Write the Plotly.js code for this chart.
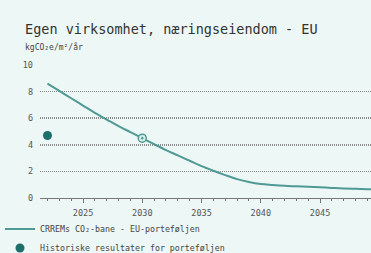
<!DOCTYPE html>
<html>
<head>
<meta charset="utf-8">
<script src="https://cdn.plot.ly/plotly-3.0.1.min.js"></script>
<style>html,body{margin:0;padding:0;background:#edf7f5;}#chart{width:371px;height:253px;}</style>
</head>
<body>
<div id="chart"></div>
<script>
// CRREM pathway (kgCO2e/m2/year)
const pathYears = [2022,2023,2024,2025,2026,2027,2028,2029,2030,2031,2032,2033,2034,2035,2036,2037,2038,2039,2040,2041,2042,2043,2044,2045,2046,2047,2048,2049,2050];
const pathValues = [8.6,8.05,7.5,6.95,6.4,5.9,5.4,4.95,4.5,4.05,3.6,3.2,2.8,2.4,2.05,1.72,1.42,1.2,1.05,0.98,0.92,0.88,0.84,0.8,0.76,0.72,0.69,0.66,0.63];
// Highlighted point on the pathway
const highlightYears = [2030];
const highlightValues = [4.5];
// Historical results for the portfolio
const histYears = [2022];
const histValues = [4.7];

const titleText = "Egen virksomhet, næringseiendom - EU";
const unitText = "kgCO₂e/m²/år";
const pathName = "CRREMs CO₂-bane - EU-porteføljen";
const histName = "Historiske resultater for porteføljen";
const xTickVals = [2025,2030,2035,2040,2045];
const yTickVals = [0,2,4,6,8,10];

const mono = "DejaVu Sans Mono, monospace";
const lineColor = "#4f9a95";
const dotColor = "#1d6f6b";
const bg = "#edf7f5";

const traces = [
  {x: pathYears, y: pathValues, type: "scatter", mode: "lines", name: pathName,
   line: {color: lineColor, width: 2, shape: "spline"}},
  {x: histYears, y: histValues, type: "scatter", mode: "markers", name: histName,
   marker: {color: dotColor, size: 9}},
  {x: highlightYears, y: highlightValues, type: "scatter", mode: "markers", showlegend: false,
   marker: {symbol: "circle-dot", color: "#d8eeea", size: 8, line: {color: lineColor, width: 1.5}}}
];

const layout = {
  width: 371, height: 253,
  paper_bgcolor: bg, plot_bgcolor: bg,
  margin: {l: 40, r: 0, t: 65, b: 55, autoexpand: false},
  font: {family: mono, size: 8.5, color: "#555"},
  xaxis: {range: [2021.37, 2049.3], tickvals: xTickVals, ticks: "outside", ticklen: 4, tickcolor: "#777",
    showgrid: false, zeroline: false, showline: true, linecolor: "#777", linewidth: 1, ticklabelstandoff: 3,
    minor: {dtick: 1, tick0: 2020, ticks: "outside", ticklen: 2, tickcolor: "#777", showgrid: false},
    tickfont: {family: mono, size: 8.5, color: "#555"}, fixedrange: true},
  yaxis: {range: [0, 10], tickvals: yTickVals, showgrid: true, gridcolor: "#8a8a8a", griddash: "1px,1px", gridwidth: 1.5,
    zeroline: false, showline: false, ticks: "", ticklabelstandoff: 6,
    tickfont: {family: mono, size: 8.5, color: "#555"}, fixedrange: true},
  showlegend: true,
  legend: {xref: "container", yref: "container", x: 0, xanchor: "left", y: 0.152, yanchor: "top", orientation: "v",
    bgcolor: "rgba(0,0,0,0)", font: {family: mono, size: 8.3, color: "#444"}, tracegroupgap: 0},
  annotations: [
    {text: titleText, xref: "paper", yref: "paper", x: -0.0514, y: 1.27, xanchor: "left", yanchor: "middle",
     showarrow: false, font: {family: mono, size: 13.5, color: "#333"}},
    {text: unitText, xref: "paper", yref: "paper", x: -0.0514, y: 1.135, xanchor: "left", yanchor: "middle",
     showarrow: false, font: {family: mono, size: 8, color: "#444"}}
  ]
};

Plotly.newPlot("chart", traces, layout, {displayModeBar: false, staticPlot: true});
</script>
</body>
</html>
